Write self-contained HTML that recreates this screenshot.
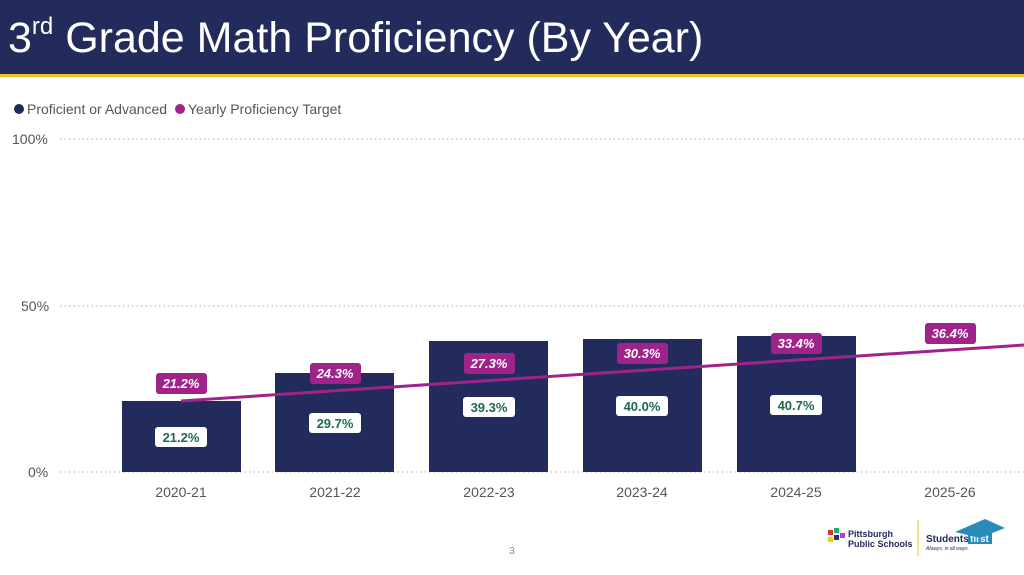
<!DOCTYPE html><html><head><style>
body{margin:0;width:1024px;height:575px;overflow:hidden;background:#fff;font-family:"Liberation Sans",sans-serif;position:relative}
.hdr{position:absolute;left:0;top:0;width:1024px;height:74px;background:#232a5c}
.yl{position:absolute;left:0;top:74px;width:1024px;height:3px;background:#e8c22a}
.t{position:absolute;left:8px;top:13px;color:#fff;font-size:43px;line-height:50px;white-space:nowrap}
.t sup{font-size:24px;vertical-align:top;position:relative;top:2px;line-height:24px}
</style></head><body>
<div class="hdr"></div><div class="yl"></div>
<div class="t">3<sup>rd</sup> Grade Math Proficiency (By Year)</div>
<svg width="1024" height="575" style="position:absolute;left:0;top:0" font-family="Liberation Sans, sans-serif">
<circle cx="19" cy="109" r="5" fill="#232a5c"/><text x="27" y="114" font-size="14" fill="#555">Proficient or Advanced</text>
<circle cx="180" cy="109" r="5" fill="#a0238c"/><text x="188" y="114" font-size="14" fill="#555">Yearly Proficiency Target</text>
<g stroke="#bbb" stroke-dasharray="1.5 3" stroke-width="1.3"><line x1="60" y1="139" x2="1024" y2="139"/><line x1="60" y1="306" x2="1024" y2="306"/><line x1="60" y1="472" x2="1024" y2="472"/></g>
<g font-size="14" fill="#555"><text x="12" y="144">100%</text><text x="21" y="311">50%</text><text x="28" y="477">0%</text></g>
<g fill="#232a5c"><rect x="122" y="401" width="119" height="71"/><rect x="275" y="373" width="119" height="99"/><rect x="429" y="341" width="119" height="131"/><rect x="583" y="339" width="119" height="133"/><rect x="737" y="336" width="119" height="136"/></g>
<line x1="181" y1="401" x2="1024" y2="345" stroke="#a0238c" stroke-width="3"/>
<g font-size="14" fill="#555" text-anchor="middle"><text x="181" y="497">2020-21</text><text x="335" y="497">2021-22</text><text x="489" y="497">2022-23</text><text x="642" y="497">2023-24</text><text x="796" y="497">2024-25</text><text x="950" y="497">2025-26</text></g>
<g font-size="13" font-weight="bold" font-style="italic" text-anchor="middle" fill="#fff">
<rect x="156" y="373" width="51" height="21" rx="3" fill="#a0238c"/><text x="181" y="388">21.2%</text>
<rect x="310" y="363" width="51" height="21" rx="3" fill="#a0238c"/><text x="335" y="378">24.3%</text>
<rect x="464" y="353" width="51" height="21" rx="3" fill="#a0238c"/><text x="489" y="368">27.3%</text>
<rect x="617" y="343" width="51" height="21" rx="3" fill="#a0238c"/><text x="642" y="358">30.3%</text>
<rect x="771" y="333" width="51" height="21" rx="3" fill="#a0238c"/><text x="796" y="348">33.4%</text>
<rect x="925" y="323" width="51" height="21" rx="3" fill="#a0238c"/><text x="950" y="338">36.4%</text>
</g>
<g font-size="13" font-weight="bold" text-anchor="middle" fill="#1e6b4a">
<rect x="155" y="427" width="52" height="20" rx="3" fill="#fff"/><text x="181" y="442">21.2%</text>
<rect x="309" y="413" width="52" height="20" rx="3" fill="#fff"/><text x="335" y="428">29.7%</text>
<rect x="463" y="397" width="52" height="20" rx="3" fill="#fff"/><text x="489" y="412">39.3%</text>
<rect x="616" y="396" width="52" height="20" rx="3" fill="#fff"/><text x="642" y="411">40.0%</text>
<rect x="770" y="395" width="52" height="20" rx="3" fill="#fff"/><text x="796" y="410">40.7%</text>
</g>
<text x="512" y="554" font-size="10" fill="#888" text-anchor="middle">3</text>
<g><rect x="828" y="530" width="5" height="5" fill="#d33"/><rect x="834" y="528" width="5" height="5" fill="#2a7"/><rect x="828" y="537" width="5" height="5" fill="#fc0"/><rect x="834" y="535" width="5" height="5" fill="#237"/><rect x="840" y="533" width="5" height="5" fill="#c3c"/>
<text x="848" y="537" font-size="9" font-weight="bold" fill="#232a5c">Pittsburgh</text><text x="848" y="547" font-size="9" font-weight="bold" fill="#232a5c">Public Schools</text>
<line x1="918" y1="520" x2="918" y2="556" stroke="#e8c22a"/>
<text x="926" y="542" font-size="10" font-weight="bold" fill="#232a5c">Students</text><rect x="968" y="532" width="24" height="12" fill="#2a8ab8"/><text x="970" y="542" font-size="10" font-weight="bold" fill="#fff">first</text>
<polygon points="955,532 985,519 1005,528 980,538" fill="#2a8ab8"/>
<text x="926" y="550" font-size="5" font-style="italic" fill="#232a5c">Always, in all ways.</text></g>
</svg>
</body></html>
